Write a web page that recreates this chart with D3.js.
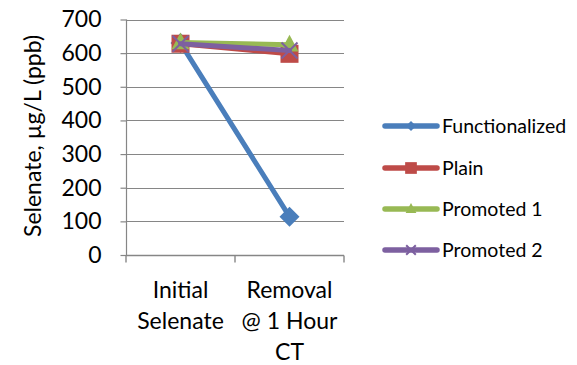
<!DOCTYPE html>
<html><head><meta charset="utf-8">
<script src="https://cdn.jsdelivr.net/npm/d3@7"></script>
<style>body{margin:0;background:#fff}svg{display:block}text{font-family:Lato,"Open Sans",sans-serif;fill:#000}</style>
</head><body>
<script>
const categories = [["Initial", "Selenate"], ["Removal", "@ 1 Hour", "CT"]];
const seriesNames = ["Functionalized", "Plain", "Promoted 1", "Promoted 2"];
const functionalized = [630, 114];
const plain = [628, 598];
const promoted1 = [632, 625];
const promoted2 = [628, 608];
const yTicks = [0, 100, 200, 300, 400, 500, 600, 700];

const colors = ["#4a7ebb", "#be4b48", "#98b954", "#7d60a0"];
const markers = ["diamond", "square", "triangle", "cross"];
const values = [functionalized, plain, promoted1, promoted2];

const W = 577, H = 365;
const FS = 23;
const svg = d3.select("body").append("svg").attr("width", W).attr("height", H);

const x = d3.scaleBand().domain(d3.range(categories.length)).range([126, 344]);
const y = d3.scaleLinear().domain([0, 700]).range([255, 19.5]);

// gridlines
svg.append("g").selectAll("line").data(yTicks.slice(1)).join("line")
  .attr("x1", 126).attr("x2", 344)
  .attr("y1", d => Math.round(y(d)) + 0.5).attr("y2", d => Math.round(y(d)) + 0.5)
  .attr("stroke", "#868686").attr("stroke-width", 1.2);

// y axis
const yAxis = svg.append("g").attr("transform", "translate(126.5,0)")
  .call(d3.axisLeft(y).tickValues(yTicks).tickSize(6).tickPadding(19));
yAxis.select(".domain").attr("stroke", "#868686").attr("stroke-width", 1.2).attr("d", `M0,${y(700)}V${y(0)}`);
yAxis.selectAll(".tick line").attr("stroke", "#868686").attr("stroke-width", 1.2);
yAxis.selectAll(".tick text").attr("font-size", FS).attr("font-family", "Lato, sans-serif").attr("fill", "#000");

// x axis
const xa = svg.append("g").attr("transform", `translate(0,${Math.round(y(0)) + 0.5})`);
xa.append("line").attr("x1", 126).attr("x2", 344).attr("stroke", "#868686").attr("stroke-width", 1.4);
const bounds = [126, 126 + x.bandwidth(), 344];
xa.selectAll("line.t").data(bounds).join("line").attr("class", "t")
  .attr("x1", d => d).attr("x2", d => d).attr("y1", 0).attr("y2", 7)
  .attr("stroke", "#868686").attr("stroke-width", 1.4);
categories.forEach((lines, i) => {
  const t = svg.append("text").attr("text-anchor", "middle").attr("font-size", FS);
  lines.forEach((l, j) => t.append("tspan").attr("x", x(i) + x.bandwidth() / 2).attr("y", 297.5 + j * 31).text(l));
});

// axis title
svg.append("text").attr("transform", "translate(41,136) rotate(-90)")
  .attr("text-anchor", "middle").attr("font-size", FS).text("Selenate, µg/L (ppb)");

function drawMarker(g, type, cx, cy, color, s) {
  if (type === "diamond") {
    const h = 10 * s;
    g.append("path").attr("d", `M${cx},${cy - h}L${cx + h},${cy}L${cx},${cy + h}L${cx - h},${cy}Z`).attr("fill", color);
  } else if (type === "square") {
    const h = 9 * s;
    g.append("rect").attr("x", cx - h).attr("y", cy - h).attr("width", 2 * h).attr("height", 2 * h).attr("fill", color);
  } else if (type === "triangle") {
    const h = 9 * s;
    g.append("path").attr("d", `M${cx},${cy - h * 1.1}L${cx + h},${cy + h * 0.75}L${cx - h},${cy + h * 0.75}Z`).attr("fill", color);
  } else {
    const h = 8 * s;
    g.append("path").attr("d", `M${cx - h},${cy - h}L${cx + h},${cy + h}M${cx + h},${cy - h}L${cx - h},${cy + h}`)
      .attr("stroke", color).attr("stroke-width", 2);
  }
}

const cx = i => x(i) + x.bandwidth() / 2;
const line = d3.line().x((d, i) => cx(i)).y(d => y(d));

// series
values.forEach((vals, s) => {
  const g = svg.append("g");
  g.append("path").datum(vals).attr("d", line).attr("fill", "none")
    .attr("stroke", colors[s]).attr("stroke-width", 5).attr("stroke-linecap", "round");
  vals.forEach((v, i) => drawMarker(g, markers[s], cx(i), y(v), colors[s], 1));
});

// legend
const legY = [126, 168, 209, 250];
const legScale = [0.5, 0.65, 0.6, 0.6];
seriesNames.forEach((name, s) => {
  const g = svg.append("g");
  g.append("line").attr("x1", 385).attr("x2", 437).attr("y1", legY[s]).attr("y2", legY[s])
    .attr("stroke", colors[s]).attr("stroke-width", 5.5).attr("stroke-linecap", "round");
  drawMarker(g, markers[s], 411, legY[s], colors[s], legScale[s]);
  g.append("text").attr("x", 442).attr("y", legY[s] + 7).attr("font-size", 19.5).text(name);
});
</script>
</body></html>
